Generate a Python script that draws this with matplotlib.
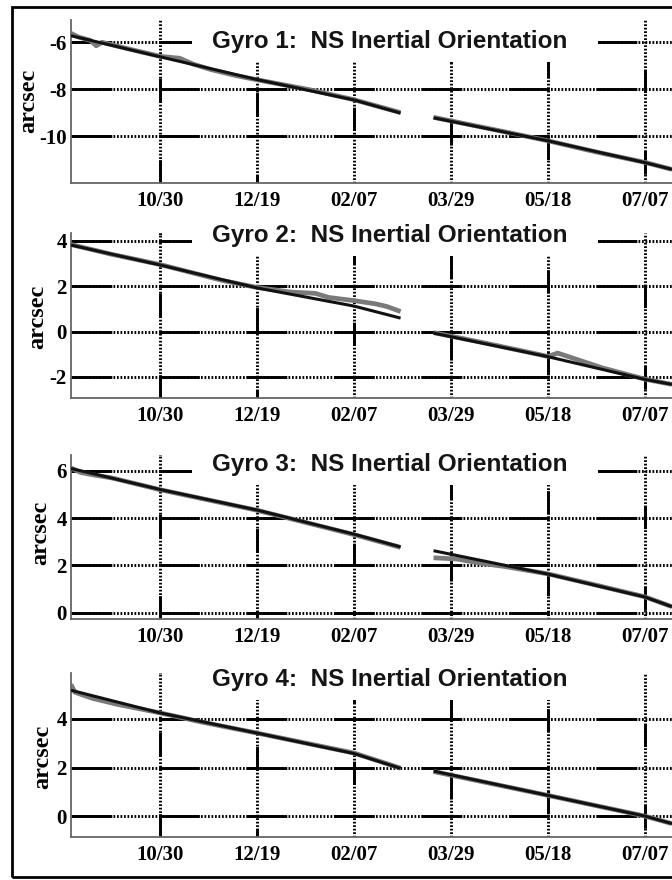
import numpy as np
import matplotlib
matplotlib.use("Agg")
import matplotlib.pyplot as plt
from matplotlib.patches import Rectangle

plt.rcParams['font.family'] = ['Liberation Serif', 'DejaVu Serif']
plt.rcParams['font.weight'] = 'bold'

nan = np.nan

# x axis (dates, 2004-2005)
tick_dates = ["2004-10-30", "2004-12-19", "2005-02-07", "2005-03-29", "2005-05-18", "2005-07-07"]
tick_labels = ["10/30", "12/19", "02/07", "03/29", "05/18", "07/07"]
x_start = "2004-09-14"
x_end = "2005-07-21"

# fitted trend (black), gap in March
fit_dates = ["2004-09-14", "2004-10-30", "2004-12-19", "2005-02-07", "2005-03-03",
             "2005-03-11", "2005-03-20", "2005-05-18", "2005-07-07", "2005-07-21"]
gyro1_fit = [-5.72, -6.62, -7.59, -8.46, -9.02, nan, -9.22, -10.2, -11.13, -11.42]
gyro2_fit = [3.81, 2.93, 1.92, 1.12, 0.59, nan, -0.07, -1.11, -2.11, -2.33]
gyro3_fit = [6.1, 5.21, 4.34, 3.32, 2.78, nan, 2.62, 1.63, 0.66, 0.25]
gyro4_fit = [5.18, 4.25, 3.42, 2.58, 1.97, nan, 1.86, 0.86, 0.01, -0.3]

# measured orientation (gray)
gyro1_data_dates = ["2004-09-14", "2004-09-18", "2004-09-24", "2004-09-27", "2004-09-30", "2004-10-12",
                    "2004-10-30", "2004-11-09", "2004-11-16", "2004-11-25", "2004-12-08", "2004-12-19",
                    "2005-01-15", "2005-02-07", "2005-03-03", "2005-03-11", "2005-03-20", "2005-04-20",
                    "2005-05-18", "2005-06-12", "2005-07-07", "2005-07-21"]
gyro1_data = [-5.62, -5.78, -5.92, -6.15, -6.0, -6.25, -6.6, -6.68, -6.93, -7.16, -7.42, -7.6,
              -8.02, -8.45, -9.0, nan, -9.2, -9.72, -10.2, -10.68, -11.12, -11.42]

gyro2_data_dates = ["2004-09-14", "2004-10-05", "2004-10-30", "2004-11-15", "2004-12-01", "2004-12-19",
                    "2005-01-05", "2005-01-18", "2005-01-25", "2005-02-07", "2005-02-18", "2005-02-24",
                    "2005-03-03", "2005-03-11", "2005-03-20", "2005-04-15", "2005-05-10", "2005-05-18",
                    "2005-05-23", "2005-05-29", "2005-06-15", "2005-07-07", "2005-07-21"]
gyro2_data = [3.83, 3.4, 2.95, 2.6, 2.25, 1.94, 1.74, 1.68, 1.5, 1.36, 1.22, 1.1,
              0.88, nan, -0.05, -0.5, -0.95, -1.1, -0.95, -1.12, -1.6, -2.1, -2.33]

gyro3_data_dates = ["2004-09-14", "2004-09-19", "2004-09-26", "2004-10-05", "2004-10-30", "2004-12-19",
                    "2005-02-07", "2005-03-03", "2005-03-11", "2005-03-20", "2005-04-01", "2005-04-14",
                    "2005-04-25", "2005-05-18", "2005-06-12", "2005-07-07", "2005-07-21"]
gyro3_data = [6.12, 5.93, 5.82, 5.7, 5.2, 4.33, 3.3, 2.76, nan, 2.32, 2.27, 2.08,
              1.96, 1.64, 1.16, 0.67, 0.25]

gyro4_data_dates = ["2004-09-14", "2004-09-16", "2004-09-25", "2004-10-08", "2004-10-30", "2004-11-20",
                    "2004-12-19", "2005-02-07", "2005-03-03", "2005-03-11", "2005-03-20", "2005-05-18",
                    "2005-07-07", "2005-07-21"]
gyro4_data = [5.42, 5.1, 4.85, 4.6, 4.25, 3.88, 3.42, 2.6, 1.98, nan, 1.84, 0.86, 0.01, -0.3]

titles = ["Gyro 1:  NS Inertial Orientation", "Gyro 2:  NS Inertial Orientation",
          "Gyro 3:  NS Inertial Orientation", "Gyro 4:  NS Inertial Orientation"]
fits = [gyro1_fit, gyro2_fit, gyro3_fit, gyro4_fit]
data_dates = [gyro1_data_dates, gyro2_data_dates, gyro3_data_dates, gyro4_data_dates]
datas = [gyro1_data, gyro2_data, gyro3_data, gyro4_data]
yticks = [[-10, -8, -6], [-2, 0, 2, 4], [0, 2, 4, 6], [0, 2, 4]]
ylims = [(-12, -5.05), (-2.93, 4.34), (-0.27, 6.67), (-0.85, 5.89)]

# layout in pixels (top, bottom of each axes; title baseline; ylabel centre)
W, H = 672, 880
ax_top = [20, 233, 455, 673]
ax_bot = [183, 398, 619, 837]
title_base = [48, 242, 471, 686]
ylab_pos = [(29, 101), (38, 317), (41, 533), (43, 757)]
ax_left = 71


def d64(lst):
    return np.array(lst, dtype="datetime64[D]")


def grid_line(ax, fn, v, dash):
    fn(v, color='black', lw=2.1, ls=(0, (0.6, 0.6)), zorder=1)
    fn(v, color='black', lw=2.1, ls=dash, zorder=1)


fig = plt.figure(figsize=(W / 100, H / 100), dpi=100)
fig.patch.set_facecolor('white')

for i in range(4):
    ax = fig.add_axes([ax_left / W, 1 - ax_bot[i] / H, (W - ax_left) / W, (ax_bot[i] - ax_top[i]) / H])
    ax.set_xlim(np.datetime64(x_start), np.datetime64(x_end))
    ax.set_ylim(*ylims[i])

    for v in yticks[i]:
        grid_line(ax, ax.axhline, v, (0, (14, 16)))
    for j, t in enumerate(tick_dates):
        grid_line(ax, ax.axvline, np.datetime64(t), (5 * j, (8, 20)))

    # white box behind the title
    bx0, bx1 = 192, 598
    by0, by1 = ax_top[i] - 10, title_base[i] + 14
    ax.add_patch(Rectangle((bx0 / W, 1 - by1 / H), (bx1 - bx0) / W, (by1 - by0) / H,
                           transform=fig.transFigure, facecolor='white', edgecolor='none', zorder=1.5))

    ax.plot(d64(data_dates[i]), datas[i], color='#7a7a7a', lw=3.4, zorder=2, solid_capstyle='butt')
    ax.plot(d64(fit_dates), fits[i], color='#111111', lw=2.2, zorder=3, solid_capstyle='butt')

    fig.text(389.5 / W, 1 - title_base[i] / H, titles[i], ha='center', va='baseline',
             fontsize=17.5, fontweight='bold', family='Liberation Sans', color='#151515', zorder=5)
    fig.text(ylab_pos[i][0] / W, 1 - ylab_pos[i][1] / H, 'arcsec', rotation=90, ha='center', va='center',
             fontsize=17.5, fontweight='bold')

    ax.set_xticks(d64(tick_dates))
    ax.set_xticklabels(tick_labels)
    ax.set_yticks(yticks[i])
    ax.set_yticklabels([str(v) for v in yticks[i]])
    ax.tick_params(length=0, labelsize=15, pad=6)
    ax.tick_params(axis='y', pad=3)
    for s in ['top', 'right']:
        ax.spines[s].set_visible(False)
    for s in ['left', 'bottom']:
        ax.spines[s].set_color('#666666')
        ax.spines[s].set_linewidth(1.3)
    ax.patch.set_alpha(0)

# outer frame
fig.add_artist(Rectangle((12 / W, 1 - 877 / H), (W + 20) / W, 870 / H, transform=fig.transFigure,
                         fill=False, edgecolor='black', lw=2))

fig.savefig('out.png', dpi=100)
